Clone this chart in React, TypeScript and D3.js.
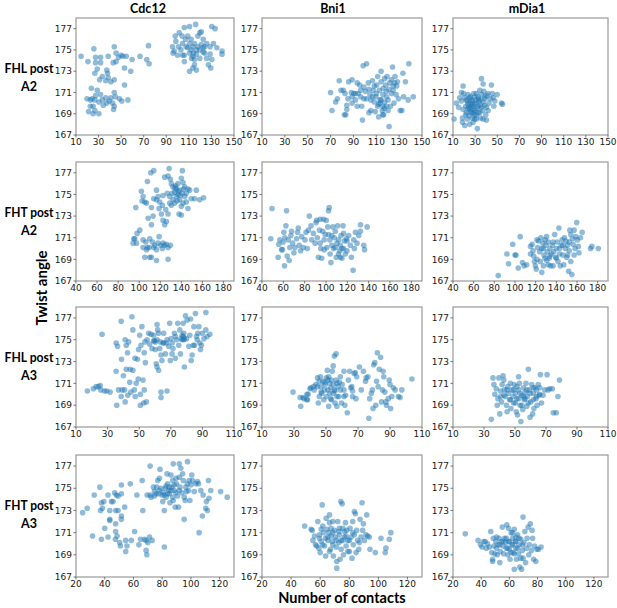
import React from 'react';
import * as d3 from 'd3';

type P = [number, number];

const columnTitles = ['Cdc12', 'Bni1', 'mDia1'];
const rowLabels = [['FHL post', 'A2'], ['FHT post', 'A2'], ['FHL post', 'A3'], ['FHT post', 'A3']];
const yAxisTitle = 'Twist angle';
const xAxisTitle = 'Number of contacts';
const yDomain = [167, 178];
const yTicks = [167, 169, 171, 173, 175, 177];
const xDomainRow1 = [10, 150];
const xTicksRow1 = [10, 30, 50, 70, 90, 110, 130, 150];
const xDomainRow2 = [40, 190];
const xTicksRow2 = [40, 60, 80, 100, 120, 140, 160, 180];
const xDomainRow3 = [10, 110];
const xTicksRow3 = [10, 30, 50, 70, 90, 110];
const xDomainRow4 = [20, 130];
const xTicksRow4 = [20, 40, 60, 80, 100, 120];

const fhlA2Cdc12: P[] = [
  [14.5,174.4],[20.6,173.9],[25.8,175.1],[27.3,174.3],[31.8,174.3],[27.3,173.8],[31.8,173.8],[28.8,173.2],[26.7,172.8],[30.9,172.2],
  [33.3,172.5],[37.3,173.1],[37.9,172.8],[36.4,172.1],[38.5,172.4],[40.9,172.0],[43.9,172.2],[38.5,174.4],[43,173.8],[45.5,173.9],
  [43.9,175.3],[45.5,174.7],[47.6,174.3],[50,174.5],[51.5,174.4],[54.5,174.4],[53,173.3],[59.7,174.1],[58.5,173.0],[66.7,174.4],
  [72.7,174.1],[74.2,175.4],[74.8,173.7],[53,171.7],[23.6,171.4],[19.7,170.4],[22.7,170.3],[24.2,170.4],[25.2,169.7],[22.7,169.7],
  [21.2,169.2],[25.2,169.0],[26.7,169.3],[30.3,169.0],[28.8,171.2],[31.8,170.8],[33.3,170.3],[36.4,170.5],[34.2,169.8],[37.3,170.0],
  [39.4,170.2],[40.9,170.5],[42.4,170.0],[43.9,171.0],[44.8,170.6],[43.3,169.4],[43.9,169.7],[48.5,170.4],[50.6,170.2],[56,170.3],
  [27.3,170.7],[30.3,170.1],[26.7,170.3],
  [95.5,175.3],[97,174.9],[96,174.7],[100,174.5],[97.9,176.3],[101.5,176.6],[106,177.1],[110.6,177.2],[116,177.4],[121,176.7],
  [130.3,177.2],[133.3,177.0],[98.5,175.8],[104.5,175.6],[107.6,175.3],[109,176.3],[112,176.0],[115,175.6],[118,176.3],[119.7,176.6],
  [122.7,176.0],[125.8,175.6],[128.8,175.3],[131.8,175.6],[134.8,175.2],[139.4,174.9],[139.4,174.6],[106,174.5],[110.6,174.7],[113.6,174.4],
  [115,174.1],[116.7,174.6],[119.7,175.0],[122.7,175.2],[124,174.7],[125.8,174.2],[128.8,174.6],[130.3,174.1],[127.3,173.6],[129.4,173.3],
  [113.6,173.3],[110.6,173.0],[115,173.6],[116.7,173.1],[106,173.9],[109,175.2],[112,175.0],[113.6,175.3],[103,175.0],[100.9,175.3],
  [118,175.3],[121,175.5],[124,175.3],[114,174.7],[116.7,175.0],[112.4,174.2],[104.5,174.5],[119.7,174.2],[122.7,174.8],[110.6,175.6],
  [107,176.0],[104,176.3]
];

const fhlA2Bni1: P[] = [
  [70,171.0],[71.2,169.3],[74.5,170.1],[76,170.4],[77.6,172.1],[79.1,171.2],[81.2,171.2],[82.7,170.9],[82.1,168.9],[83.3,168.9],
  [84.2,169.4],[84.2,169.8],[85.2,170.4],[85.8,172.0],[88.2,171.0],[88.8,170.0],[90.3,170.9],[91.8,170.3],[91.8,170.9],[93.3,171.9],
  [94.2,170.9],[95.5,171.7],[96.4,170.6],[97.3,169.7],[97.9,168.4],[98.5,173.5],[101.5,173.7],[99.1,171.5],[100.6,171.1],[101.5,170.4],
  [103,171.9],[103.6,171.3],[104.5,170.8],[105.2,170.3],[105.2,169.3],[106.7,172.1],[107.3,171.2],[108.2,170.1],[109.1,169.2],[109.7,170.6],
  [110.3,171.7],[111.2,169.7],[112.1,168.7],[112.7,171.2],[113.3,170.3],[114.2,173.0],[114.2,172.0],[115.2,169.3],[115.8,170.8],[116.4,168.9],
  [117.3,170.1],[118.2,171.7],[118.8,171.1],[119.4,172.5],[120.3,170.3],[121.2,167.8],[121.8,171.9],[122.4,169.7],[123.3,172.2],[124.2,173.4],
  [124.8,171.2],[125.5,170.0],[126.4,172.5],[127.3,170.8],[127.9,171.6],[128.5,172.0],[129.4,170.4],[130.9,169.3],[132.4,169.3],[133.3,172.8],
  [133.9,170.6],[135.5,172.0],[138.5,173.7],[142.4,170.6],[137.9,170.3],[117.3,172.3],[111.2,172.5],[108.2,171.6],[99.1,170.4],[93.3,169.7],
  [88.8,170.6],[115.8,169.7],[120.3,169.3],[113.3,170.0],[106.7,170.6],[123.3,170.9],[124.8,171.6],[118.8,169.7],[114.2,170.3],[115.8,168.9],
  [103.6,169.1],[96.4,171.2],[88.8,172.2],[119,170.6],[121,171.3],[116,171.4],[110,170.9],[126,171.9],[112,169.9],[117,169.5]
];

const fhlA2Mdia1: P[] = [
  [10.9,168.5],[13,170],[15.1,169.6],[17.6,171.0],[18.5,168.2],[19.1,171.6],[19.7,170.9],[18.5,168.6],[20.6,170.5],[20.6,167.9],
  [21.5,169.7],[22.1,169.1],[22.7,170.2],[23,168.5],[23.6,170.8],[23.6,169.4],[24.5,168.8],[25.1,170],[25.1,168],[25.7,170.6],
  [26.3,169.2],[26.6,169.7],[27.5,170.2],[27.5,168.6],[28.1,168.2],[28.7,170.9],[28.7,169.4],[29.6,168.9],[29.6,169.9],[30.5,170.3],
  [31.1,168.5],[31.8,169.5],[32,167.6],[32.7,170.6],[32.7,169.1],[33.6,170.2],[34.2,171.2],[34.8,169.8],[35.1,168.6],[35.7,172.3],
  [36,170.8],[36.6,169.3],[37.2,171.8],[37.2,170.1],[37.8,171.1],[38.7,169.8],[39,170.4],[39.6,168.9],[40.2,168.4],[40.8,170.7],
  [41.7,169.3],[42.6,170],[43.8,170.4],[44.7,171.7],[45.6,170.9],[46.3,170.5],[46.9,169.7],[47.8,170.2],[49.9,170.8],[53.8,170],
  [54.7,169.9],[22.1,170.3],[25.1,169.5],[26.6,170.3],[28.1,169.1],[29.6,170.6],[31.1,170],[32.7,169.7],[34.2,169.1],[23.6,169.9],
  [26.6,169.1],[29.6,168.5],[31.1,170.9],[28.1,169.7],[25.1,170.5],[34.8,170.3],[21.5,168.9],[37.2,168.5],[19.1,169.4],[17.6,170.2],
  [16,170.5],[38.7,170.6],[41.7,170.9],[31.1,168.9],[40.2,169.6],[24,169.6],[27,169.9],[30,169.3],[33,170.4],[35.5,169.6]
];

const fhtA2Cdc12: P[] = [
  [95.8,170.9],[97.4,170.5],[98,171.4],[100.6,171.7],[96.8,173.8],[102.8,174.4],[102.1,175.3],[103.7,174.8],[105.3,174.3],[106.9,174.2],
  [107.8,176.2],[111,177],[113.8,177.2],[108.5,172.8],[111.6,172.2],[113.2,173],[111.6,173.8],[113.8,174.6],[116.4,175.4],[117.9,174.8],
  [119.5,174.3],[118.9,173.7],[121.1,173.2],[122.6,172.6],[124.2,172.2],[125.8,172.5],[127.4,173.2],[129,174.2],[125.2,173.6],[122,174],
  [126.7,175.1],[127.4,176.7],[124.2,176.6],[128.4,177.4],[129.6,176.4],[130.5,176.0],[132.1,175.7],[133.7,175.2],[135.3,175.5],[136.8,176.0],
  [138.4,175.4],[140,176.5],[141,177.2],[141.6,176.1],[143.2,175.7],[144.7,175.1],[146.3,175.5],[147.9,175.4],[149.5,174.6],[152.6,174.6],
  [154.2,175.4],[157.4,174.5],[161.1,174.7],[135.3,174.8],[138.4,174.5],[141.6,174.2],[140,173.9],[144.7,174.3],[146.3,173.7],[140,173.1],
  [137.8,173.2],[132.1,174.5],[130.5,174.0],[133.7,174.2],[136.8,175.0],[131.2,175.1],[134.6,175.8],[140.9,175.1],[143.2,174.8],[129,174.8],
  [122.6,174.9],[116.4,174.5],[94.2,170.5],[94.9,170.9],[103.7,170.8],[106.3,170.6],[107.8,170.1],[103.7,170.1],[106.9,169.9],[105.3,169.2],
  [110,169.2],[111.6,169.2],[116.4,168.9],[127.4,169],[110,170.9],[112.5,170.6],[113.8,170.1],[114.7,170.3],[117.9,170.5],[118.9,171.1],
  [120.5,170.3],[122,170],[124.2,170.3],[125.8,170.4],[127.4,170.1],[129.6,170.3],[122.6,170.5],[116.4,169.9],[109.4,170.1],[137,175.3],
  [139,174.9],[134,175.6],[142,175.5],[136,174.4]
];

const fhtA2Bni1: P[] = [
  [48.2,170.9],[49.4,173.7],[55.1,169.2],[55.7,170.4],[56.7,170.8],[58.3,169.9],[59.2,169.9],[59.8,170.6],[60.5,171.5],[61.1,168.4],
  [61.4,171.0],[62.4,172.1],[63,173.5],[63.6,169.3],[64.6,170.8],[65.5,168.9],[66.1,170.1],[67.1,171.2],[67.7,171.6],[68.7,170.5],
  [69.9,169.6],[70.9,170.1],[72.4,170.9],[73.4,171.5],[74,171.9],[74.9,170.3],[76.2,169.8],[77.2,171.1],[78.7,170.1],[80.3,170.8],
  [81.3,171.5],[82.5,170],[83.5,171.7],[84.4,173],[86,172.1],[86.6,170.8],[88.2,171.4],[89.8,170.5],[90.7,172.4],[91.3,172.6],
  [91.9,171],[92.9,169.2],[93.9,171.7],[94.5,172.7],[95.1,170],[96,169.1],[97,171.6],[97.6,172.7],[98.3,170.8],[99.2,171.3],
  [100.2,172.6],[100.8,170.1],[101.7,172],[102.4,173.5],[103,173.8],[103.6,170.8],[103.9,169.5],[104.6,168.7],[105.5,171.2],[106.5,172],
  [107.1,170],[107.7,171],[108.7,171.6],[109.6,169.2],[110.2,170.5],[110.9,172.1],[111.8,170.8],[112.8,169.8],[113.4,170.3],[114.1,171.2],
  [115,169.1],[116,172.1],[116.5,170],[117.2,170.7],[118.1,169.5],[119.1,170.9],[119.7,169.8],[121.3,171.2],[122.8,170.3],[123.8,169.2],
  [125.4,168.0],[126,170.8],[126.6,170],[127.6,171.5],[129.1,170.5],[130.7,171.2],[132.3,172.2],[132.3,171.6],[135.4,170.3],[136.1,169.9],
  [138.6,172],[108.7,170.1],[111.8,169.5],[105.5,170.3],[102.4,171.3],[98.3,169.9],[94.5,170.5],[115,170],[113.4,169.2],[119.7,170.7],
  [116.5,171.4]
];

const fhtA2Mdia1: P[] = [
  [83.8,167.5],[92.2,169.5],[93.8,168.6],[97.8,170.4],[100,169.4],[100.9,169.4],[103.1,168.2],[105,171.1],[107.2,168.7],[108.8,168.4],
  [111.3,168.5],[115,170.2],[116.6,170.4],[117.5,169.8],[118.1,169.3],[118.8,168.8],[119.7,168.4],[120.6,168.1],[121.3,170.8],[121.9,170.1],
  [122.8,170.7],[123.8,169.7],[124.4,168.8],[125,171],[125.9,167.8],[126.9,170.5],[127.5,170],[128.1,169.4],[129.1,169.1],[130,170.3],
  [130.6,171.1],[131.3,169.7],[132.2,170.6],[133.1,169.1],[133.8,170],[134.4,168.4],[135.3,169.5],[136.3,170.3],[136.9,168.4],[137.5,169.7],
  [138.4,171.3],[139.4,169.2],[140,170],[140.9,170.6],[141.6,168.8],[142.5,171.9],[143.1,169.5],[143.8,168.4],[144.7,170.3],[145.6,170.8],
  [146.3,169.4],[147.2,168.5],[147.8,171],[148.8,170],[149.4,170.7],[150,169.2],[150.9,170.3],[151.9,167.9],[152.5,169.8],[153.1,171.7],
  [154,171.3],[155,167.6],[155.6,170.9],[156.3,170.4],[157.2,171.7],[158.1,170],[158.8,171.1],[159.7,172.4],[160.3,170.8],[161.3,170.2],
  [161.9,169.6],[163.4,171],[165,171.5],[173.1,170],[174.4,170.2],[180.6,170],[132.2,168.5],[129.1,170.8],[125.9,170],[121.3,169],
  [136.9,170.6],[140,169.1],[146.3,170.3],[150.9,169.4],[154,168.8],[157.2,169.4],[133.8,169.3],[130.6,168.9],[143.1,170],[127.5,168.4],
  [115,169.5],[152.5,170.6]
];

const fhlA3Cdc12: P[] = [
  [17.2,170.3],[21,170.5],[22.7,170.7],[24.2,170.7],[25.3,170.8],[25.7,170.4],[28,170.3],[29.5,170.3],[31.6,170.2],[26.5,175.5],
  [35.8,169],[35.4,172.1],[35.4,174.7],[36.3,174.4],[36.9,170.4],[38.6,176.7],[38.8,173.2],[39.2,170.4],[38.6,169.8],[40,171.7],
  [40.8,170.4],[41.1,175],[41.8,174.5],[41.8,172.3],[41.1,169.3],[42.6,173.8],[42.8,169.9],[43.3,174.8],[44,171.1],[44.3,172.3],
  [44.7,170.2],[45.4,177.1],[46,172.2],[46,175.9],[46.9,170.4],[47.3,173.3],[47.5,169.8],[48.1,171],[48.9,173.2],[49.4,171.4],
  [49.6,174.1],[50.3,175.4],[50.7,169],[50.7,170],[51.1,174.5],[51.7,176.2],[52.4,171.3],[52.8,169.2],[53.2,170.4],[53.2,173.8],
  [53.6,174.8],[54.5,169.3],[53.9,172.9],[55,175],[56,175.6],[56.6,174.6],[57.5,175.5],[58.1,174.2],[59.2,175.4],[59.6,174.9],
  [60.2,174.8],[60.2,174.1],[60.8,172.8],[61.3,172.5],[62.3,172.2],[61.3,176.4],[61.7,175.9],[62.3,175.6],[63,174.2],[63.4,174.8],
  [63.8,173.6],[63.8,170.2],[63.8,169.7],[64.4,173.1],[65.1,174.7],[65.5,175.6],[66.6,173.7],[67.2,174.7],[67.6,170.3],[68.7,174.4],
  [69.3,176.5],[69.7,173.1],[70.1,175.1],[70.8,174.7],[70.8,173.7],[71.4,174.2],[72.3,175.6],[72.9,173.3],[73.6,175],[74.4,176.5],
  [75,174.5],[75.7,175.9],[76.1,173.7],[76.5,175.1],[77.2,175.4],[77.8,176.5],[78.2,175],[78.6,172.5],[79.3,177.2],[79.9,175.1],
  [80.3,176.8],[81.4,174.4],[82,175.4],[82.5,176.9],[82.9,173.1],[83.5,173.6],[84.2,174.5],[84.6,176.2],[85,174.5],[85.6,177.4],
  [86.3,175.3],[86.7,175],[87.1,175.6],[87.8,176.2],[88.4,174.7],[88.8,174.1],[89.4,174.5],[89.9,175.6],[91,175.1],[92.2,177.5],
  [92.2,175.9],[93,175.3],[94.7,175.5],[59.2,174.9],[61.3,175],[65.5,174.7],[67.6,175],[72.9,175.3],[77.8,175.3],[78.6,175.1],
  [77.2,175],[78.2,175.6]
];

const fhlA3Bni1: P[] = [
  [29.4,170.2],[33.8,169.7],[35.6,169.7],[38.1,169.5],[38.1,170.0],[40,170.5],
  [34.2,168.9],[36.3,169.6],[38.4,169.5],[38.8,170.0],[40.5,170.6],[42.2,170.7],[42.6,170.4],[43.7,170.9],[44.7,171.5],[45.2,169.2],
  [45.8,171.2],[45.8,169.8],[46.5,171.6],[46.9,170.7],[47.4,170.1],[48,171.2],[48.6,169.5],[49.1,170.4],[49.5,170.9],[50.2,171.5],
  [50.2,169.8],[50.8,172.2],[51.2,170.4],[51.7,168.9],[51.7,171.6],[52.3,171],[52.3,170.1],[53,170.6],[53.4,171.3],[53.4,169.5],
  [53.9,172.1],[54.5,172.6],[54.5,170.9],[55.2,173.5],[55.6,170.3],[55.6,169.2],[56.3,173.7],[56.3,171.3],[56.8,168.9],[57.5,170.7],
  [57.9,169.8],[58.4,171.1],[59,170.4],[59.7,169.2],[60.1,170.9],[61.2,172.1],[61.2,170.4],[61.8,169],[62.3,169.9],[63.3,168.3],
  [64,171.3],[64.8,172.1],[65.5,170.6],[66.1,170.7],[66.6,169.8],[67.6,171.9],[68.3,172],[68.7,169.6],[69.2,171.6],[70.9,172.5],
  [72,170.4],[73.4,172.1],[74.7,171.2],[75.1,171.5],[76.2,171.6],[76.8,167.8],[77.3,169.6],[78.3,170.1],[79,170.4],[79.4,168.7],
  [79.8,172.7],[80.5,172.9],[81.1,169],[81.6,171.2],[82.1,173.8],[82.6,170.7],[83.3,172.3],[84.1,173.4],[84.7,169.3],[85.3,170.4],
  [85.7,172.1],[86.1,171.6],[86.8,170.2],[87.4,169.3],[87.8,169],[88.9,169.6],[89.5,171.3],[90,170.9],[90.4,168.7],[91.1,169.8],
  [92.1,170.6],[93.2,170.4],[95.3,169.8],[96.3,169.7],[97.4,170.4],[103.7,171.4],[66.6,170.3],[56.8,169.8],[54.5,170.1],[51.2,171.3],
  [49.1,171.1],[55.2,170.4],[53,169.6],[56.8,171],[59,171.6],[46.9,170.2],[44.7,170.7],[61.2,169.8]
];

const fhlA3Mdia1: P[] = [
  [34.7,167.7],[35.8,171.5],[36.4,170.9],[37,170],[37.9,170.5],[38.5,169],[39,169.6],[39.6,171.5],[40.2,168.2],[40.7,170.3],
  [41.3,169.3],[41.7,170.9],[42.3,171.7],[42.8,171.3],[43.2,170.4],[43.8,169.8],[44.5,169],[44.9,168.4],[45.3,170.7],[45.9,170.1],
  [46.6,169.5],[47,171],[47.4,168.7],[48,170.4],[48.7,169.8],[49.1,169.2],[49.5,170.9],[50.2,170.1],[50.8,168.4],[51.2,169.6],
  [51.6,168.1],[52.3,170.4],[52.9,171],[53.3,169],[53.8,167.5],[54.4,169.9],[55,168.6],[55.5,170.6],[55.9,169.5],[56.5,170.2],
  [57.1,171],[57.6,168.9],[58,169.8],[58.6,172.3],[59.3,170.4],[59.7,167.9],[60.1,169.3],[60.7,170.9],[61.4,168.2],[61.8,170.1],
  [62.2,168.7],[62.9,170.6],[63.5,169.6],[63.9,170.4],[64.3,169],[65,170.9],[65.6,169.9],[66,170.6],[66.4,171.8],[67.1,169.2],
  [68.1,169.9],[69.2,170.4],[70.7,171.8],[71.3,170.4],[72.4,170.5],[74.1,170.5],[74.7,168.3],[76.6,168.3],[77.7,169.8],[78.7,171.3],
  [52.3,171.6],[49.1,170.4],[51.2,170.7],[53.3,170.1],[55.5,169.8],[57.6,170.4],[59.7,170.1],[61.8,169.5],[63.9,169.8],[44.9,170.4],
  [47,169.5],[50.2,169.2],[54.4,169],[58.6,169.2],[61.8,170.6],[66,170],[42.8,169.9],[40.7,169.8],[52.3,169.6],[56.5,169.6]
];

const fhtA3Cdc12: P[] = [
  [24.6,172.8],[27.8,173.2],[31.5,170.7],[32.7,174.4],[36.6,175.1],[37.1,173],[37.7,173.7],[37.7,170.4],[38.4,173.2],[39.4,173.8],
  [40,171.4],[42.3,174.4],[42.3,170.6],[43.5,173],[43.5,172.2],[43.5,172.1],[44.7,173.8],[45.8,173.8],[46.9,174.6],[47.4,170.4],
  [47.6,173],[47.6,171.8],[47.6,171.1],[48.1,174.4],[48.6,170.7],[49.3,174.3],[49.3,173],[50.4,170.1],[50.9,169.8],[51.6,172.5],
  [51.6,172.2],[51.6,174.5],[51.6,175.3],[53.9,173.3],[54.6,170.3],[54.6,169.3],[55.5,169.8],[57.8,175.4],[58.5,170.3],[60.8,171.1],
  [62.4,174.4],[63.8,169.9],[64.9,170.4],[66.1,175.7],[66.5,173],[67.7,170.4],[68.8,170.3],[68.8,169.4],[69.3,169],[69.5,174.4],
  [70,170.1],[71.2,170.6],[71.6,174.4],[71.6,177],[72.3,174.2],[73,170.3],[73.9,175.1],[74.6,174.3],[74.6,174.7],[75.8,174.5],
  [76.2,175.1],[76.9,175.7],[77.6,174.5],[78.1,175.9],[78.5,176.7],[79.2,175],[79.9,174.4],[80.4,173.8],[80.8,174.6],[81.5,173],
  [81.5,169.7],[82.2,175],[82.7,174.2],[83.4,176.3],[83.8,175.4],[84.5,174.8],[85,174.5],[85.4,173.7],[86.1,176.2],[86.8,175.1],
  [87.3,174.2],[87.7,173.9],[87.7,177.2],[88.4,174.8],[89.1,173.3],[89.6,174.6],[90,175.4],[90.7,174.3],[91.4,173.3],[91.9,177.2],
  [91.9,176],[92.4,175.1],[93,176.8],[93.7,174.6],[94.2,176.3],[94.7,175.7],[95.3,172.2],[96,173.9],[96.5,175.1],[96.9,174.7],
  [97.6,177.4],[97.6,175.4],[98.3,174.8],[99.3,173.9],[100,175.3],[100.6,176.2],[101.1,175.7],[102.3,174.7],[103.4,175.4],[104.6,175.6],
  [105.3,175.4],[105.7,171],[106.9,174.8],[108,172.5],[108.5,174.4],[110.3,173.2],[110.8,173.8],[111.5,173],[112.2,175.7],[112.6,174.1],
  [113.8,174.8],[120.7,174.7],[125.3,174.2],[82.7,175.2],[86.1,174.8],[88.4,175.3],[89.6,175.9],[85,175.1],[91.9,174.8],[95.3,174.2],
  [98.8,175.7],[83.8,174.5],[81.5,174.4],[78.1,174.8],[87.3,175.7]
];

const fhtA3Bni1: P[] = [
  [49.3,171.6],[53.8,171.3],[54.5,171.2],[55,170.3],[56.1,170.7],[56.8,169.9],[57.7,169.8],[58.4,172],[59.1,169.6],[59.5,170.8],
  [60,169.2],[60.7,170.2],[60.7,171.3],[61.4,173.5],[61.8,171.6],[62.3,171],[63,169.8],[63.7,170.5],[63.7,168.9],[64.1,172.3],
  [64.6,171.3],[65.3,170.3],[65.9,171],[66.4,171.9],[66.4,172.6],[67.1,169.5],[67.5,170.7],[67.5,171.4],[68.2,170.2],[68.7,172],
  [69.1,168.9],[69.8,171.2],[70.5,170.6],[71,169.7],[71.4,168.4],[71.4,167.8],[72.1,172],[72.8,170.1],[73.2,170.8],[73.7,168.6],
  [74.2,173.8],[74.4,170.3],[75.1,173.6],[75.5,171.4],[76,169],[76.7,170.6],[77.4,171.9],[77.8,169.8],[78.3,171.2],[79,170.3],
  [80.1,169.3],[80.5,171.4],[81.2,170.6],[81.9,168.7],[82.4,172],[82.8,169.9],[83.5,172.9],[84.2,172.7],[84.7,169.2],[85.1,171.2],
  [85.8,170.3],[86.5,169.5],[87.4,172.2],[88.1,170.6],[88.8,173.7],[89.2,171.2],[89.7,171.8],[90.4,170.3],[91.5,170.8],[92,172.6],
  [92.6,170.7],[93.8,170.6],[94.2,169.5],[97.9,169.2],[101.8,170.5],[104.7,169.2],[105.2,169.6],[107.5,170.4],[108.6,171],[86.9,170.1],
  [82.4,171],[77.8,170.7],[73.2,171.4],[68.7,171],[65.3,170.6],[75.5,170.3],[80.1,170.3],[71,170.3],[74.4,169.5],[79,169.3],
  [83.5,170.8],[68.7,169.9],[61.8,169.9],[72.8,171.1],[76.7,171.1],[66.4,169.3],[59.5,170.5]
];

const fhtA3Mdia1: P[] = [
  [28.7,170.9],[37.8,170.3],[39.5,169.9],[40.6,169.7],[41.7,170.2],[42.9,170.2],[43.6,169.6],[44.5,170],[45.9,169.7],[46.8,171.1],
  [47.5,169.2],[48.1,168.4],[48.1,168.6],[48.6,170.5],[49.1,169.8],[49.7,169.1],[50.4,170.2],[50.9,170.6],[51.4,169],[52,169.9],
  [52.7,170.5],[53.2,168.3],[53.6,169.3],[54.3,170.2],[55,171.5],[55.5,169.8],[55.9,169.1],[56.6,170.5],[57.3,170.1],[57.8,169.6],
  [58.2,171.7],[58.9,169],[59.4,171.4],[59.6,170.2],[60,169.5],[60.5,168.6],[61.2,171],[61.9,169.9],[62.3,170.5],[62.8,169.2],
  [63.5,171.3],[63.5,167.7],[64.2,170.2],[64.6,169.6],[65.1,168.6],[65.8,170.8],[66.5,169.1],[66.9,169.9],[67.4,167.9],[68.1,170.4],
  [68.7,167.7],[69.2,169.4],[69.7,172.4],[69.7,168.7],[70.3,170.1],[71,171.1],[71.5,168.3],[72,169.6],[72.6,170.5],[73.3,171.5],
  [73.8,169],[74.2,169.9],[74.9,171.8],[75.6,169.4],[76.1,171.2],[76.5,170.5],[77.2,168.6],[77.9,169.8],[78.8,168.4],[79.5,169.5],
  [80.6,169.5],[82.5,169.7],[62.3,169.9],[64.6,170.2],[60,170.2],[57.8,170.5],[55.5,170.2],[66.9,170.5],[69.2,169.9],[65.8,169.6],
  [63.5,169.1],[61.2,169.2],[58.9,169.6],[68.1,168.7],[62.3,171],[64.6,170.6],[53.2,169.9],[50.9,169.6]
];

const W = 617;
const H = 608;
const colLeft = [76, 262, 453];
const colRight = [234, 422, 608];
const rowTop = [18, 162, 307, 455];
const rowBottom = [135, 281, 427, 577];
const titleX = [148, 333, 527];

const rows = [
  { xDomain: xDomainRow1, xTicks: xTicksRow1, data: [fhlA2Cdc12, fhlA2Bni1, fhlA2Mdia1] },
  { xDomain: xDomainRow2, xTicks: xTicksRow2, data: [fhtA2Cdc12, fhtA2Bni1, fhtA2Mdia1] },
  { xDomain: xDomainRow3, xTicks: xTicksRow3, data: [fhlA3Cdc12, fhlA3Bni1, fhlA3Mdia1] },
  { xDomain: xDomainRow4, xTicks: xTicksRow4, data: [fhtA3Cdc12, fhtA3Bni1, fhtA3Mdia1] },
];

const labelFont = 'Lato, "Open Sans", sans-serif';
const tickFont = '"DejaVu Sans", sans-serif';

function Panel({ r, c }: { r: number; c: number }) {
  const row = rows[r];
  const l = colLeft[c], rt = colRight[c], t = rowTop[r], b = rowBottom[r];
  const x = d3.scaleLinear().domain(row.xDomain).range([l, rt]);
  const y = d3.scaleLinear().domain(yDomain).range([b, t]);
  const pts = row.data[c];
  return (
    <g>
      {pts.map((p, i) => (
        <circle key={i} cx={x(p[0])} cy={y(p[1])} r={2.8} fill="#1f77b4" fillOpacity={0.5} />
      ))}
      <rect x={l} y={t} width={rt - l} height={b - t} fill="none" stroke="#999" strokeWidth={1.2} />
      {yTicks.map((v) => (
        <g key={'y' + v}>
          <line x1={l - 2.5} x2={l} y1={y(v)} y2={y(v)} stroke="#555" strokeWidth={0.8} />
          <text x={l - 4} y={y(v)} dy="0.35em" textAnchor="end" fontFamily={tickFont} fontSize={9} fill="#1a1a1a">{v}</text>
        </g>
      ))}
      {row.xTicks.map((v) => (
        <g key={'x' + v}>
          <line x1={x(v)} x2={x(v)} y1={b} y2={b + 2.5} stroke="#555" strokeWidth={0.8} />
          <text x={x(v)} y={b + 10} textAnchor="middle" fontFamily={tickFont} fontSize={9} fill="#1a1a1a">{v}</text>
        </g>
      ))}
    </g>
  );
}

export default function App() {
  return (
    <svg width={W} height={H} style={{ position: 'absolute', left: 0, top: 0, background: '#fff' }}>
      <rect x={0} y={0} width={W} height={H} fill="#fff" />
      {columnTitles.map((tt, c) => (
        <text key={tt} x={titleX[c]} y={12.5} textAnchor="middle" fontFamily={labelFont} fontWeight="bold" fontSize={12.5} fill="#000">{tt}</text>
      ))}
      {rowLabels.map((lines, r) => (
        <g key={r}>
          <text x={29} y={rowTop[r] + 55} textAnchor="middle" fontFamily={labelFont} fontWeight="bold" fontSize={12.5} fill="#000" textLength={49} lengthAdjust="spacingAndGlyphs">{lines[0]}</text>
          <text x={29} y={rowTop[r] + 73} textAnchor="middle" fontFamily={labelFont} fontWeight="bold" fontSize={12.5} fill="#000">{lines[1]}</text>
        </g>
      ))}
      <text transform="translate(47,288) rotate(-90)" textAnchor="middle" fontFamily={labelFont} fontWeight="bold" fontSize={15} fill="#000">{yAxisTitle}</text>
      <text x={342} y={603} textAnchor="middle" fontFamily={labelFont} fontWeight="bold" fontSize={14.5} fill="#000">{xAxisTitle}</text>
      {rows.map((_, r) => [0, 1, 2].map((c) => <Panel key={r + '-' + c} r={r} c={c} />))}
    </svg>
  );
}
